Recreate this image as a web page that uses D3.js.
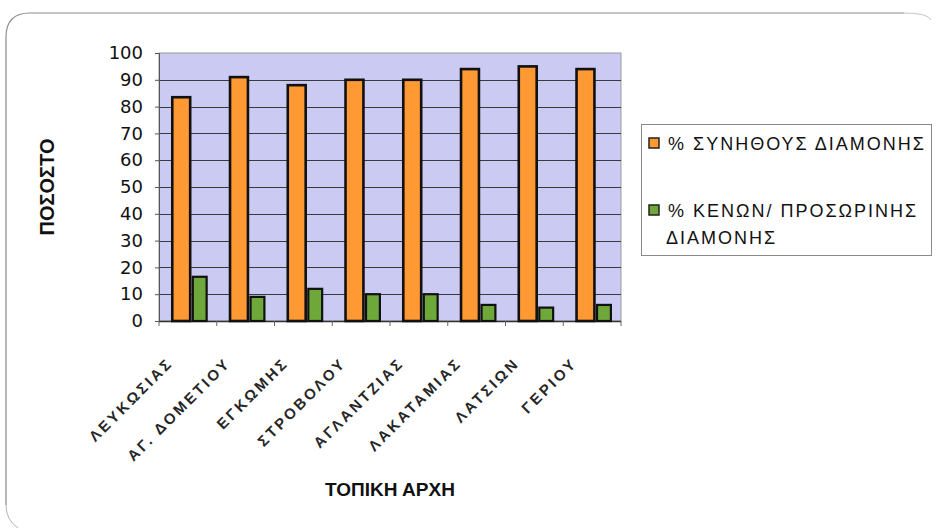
<!DOCTYPE html>
<html>
<head>
<meta charset="utf-8">
<script src="https://cdn.jsdelivr.net/npm/d3@7"></script>
<style>
  html, body { margin: 0; padding: 0; background: #ffffff; }
  svg { display: block; }
</style>
</head>
<body>
<svg id="chart" width="936" height="528"></svg>
<script>
// Municipalities of the Nicosia district
const categories = ["ΛΕΥΚΩΣΙΑΣ", "ΑΓ. ΔΟΜΕΤΙΟΥ", "ΕΓΚΩΜΗΣ", "ΣΤΡΟΒΟΛΟΥ", "ΑΓΛΑΝΤΖΙΑΣ", "ΛΑΚΑΤΑΜΙΑΣ", "ΛΑΤΣΙΩΝ", "ΓΕΡΙΟΥ"];
// % of dwellings in usual residence
const usualResidence = [83.5, 91, 88, 90, 90, 94, 95, 94];
// % of vacant / temporary-residence dwellings
const vacantTemporary = [16.5, 9, 12, 10, 10, 6, 5, 6];
const yTicks = [0, 10, 20, 30, 40, 50, 60, 70, 80, 90, 100];
const seriesNames = ["% ΣΥΝΗΘΟΥΣ ΔΙΑΜΟΝΗΣ", "% ΚΕΝΩΝ/ ΠΡΟΣΩΡΙΝΗΣ ΔΙΑΜΟΝΗΣ"];
const seriesColors = ["#ff9933", "#6fa83a"];

const svg = d3.select("#chart");
const plot = { left: 159, right: 621, top: 53, bottom: 321 };

// Outer rounded frame (top and left edges visible)
const r = 24;
svg.append("path")
  .attr("d", `M6,505 L6,${13 + r} Q6,13 ${6 + r},13 L${928 - r},13`)
  .attr("fill", "none")
  .attr("stroke", "#8a8a8a")
  .attr("stroke-width", 1.2);
svg.append("path")
  .attr("d", `M${928 - r},13 Q928,13 931,20`)
  .attr("fill", "none")
  .attr("stroke", "#c4c4c4")
  .attr("stroke-width", 1);
svg.append("path")
  .attr("d", `M6,505 Q6,520 18,528`)
  .attr("fill", "none")
  .attr("stroke", "#b0b0b0")
  .attr("stroke-width", 1);

const x = d3.scaleBand().domain(categories).range([plot.left, plot.right]).padding(0);
const y = d3.scaleLinear().domain([0, 100]).range([plot.bottom, plot.top]);

// Plot area background
svg.append("rect")
  .attr("x", plot.left).attr("y", plot.top)
  .attr("width", plot.right - plot.left).attr("height", plot.bottom - plot.top)
  .attr("fill", "#cacaf2")
  .attr("stroke", "#9a9a9a").attr("stroke-width", 1);

// Horizontal gridlines
svg.append("g")
  .selectAll("line")
  .data(yTicks.filter(d => d > 0 && d < 100))
  .join("line")
  .attr("x1", plot.left).attr("x2", plot.right)
  .attr("y1", d => Math.round(y(d)) + 0.5).attr("y2", d => Math.round(y(d)) + 0.5)
  .attr("stroke", "#3a3a3a").attr("stroke-width", 1);

// Y axis
const yAxis = svg.append("g")
  .attr("transform", `translate(${plot.left},0)`)
  .call(d3.axisLeft(y).tickValues(yTicks).tickSize(4).tickPadding(12));
yAxis.select(".domain").attr("stroke", "#555");
yAxis.selectAll(".tick line").attr("stroke", "#555");
yAxis.selectAll("text")
  .attr("font-family", "'DejaVu Sans', sans-serif")
  .attr("font-size", 18)
  .attr("fill", "#111");

// X axis with ticks between categories
const xAxis = svg.append("g")
  .attr("transform", `translate(0,${plot.bottom})`);
xAxis.append("line")
  .attr("x1", plot.left).attr("x2", plot.right)
  .attr("y1", 0.5).attr("y2", 0.5)
  .attr("stroke", "#333").attr("stroke-width", 1.5);
xAxis.selectAll(".sep")
  .data(categories.concat([null]))
  .join("line")
  .attr("class", "sep")
  .attr("x1", (d, i) => plot.left + i * x.bandwidth())
  .attr("x2", (d, i) => plot.left + i * x.bandwidth())
  .attr("y1", 0).attr("y2", 5)
  .attr("stroke", "#666");

// Bars
const bw = x.bandwidth();
const seriesLayout = [
  { values: usualResidence, offset: 0.23, width: 0.31, color: seriesColors[0], stroke: 2.6 },
  { values: vacantTemporary, offset: 0.585, width: 0.24, color: seriesColors[1], stroke: 2.2 }
];
seriesLayout.forEach(s => {
  svg.append("g")
    .selectAll("rect")
    .data(categories.map((c, i) => ({ c, v: s.values[i] })))
    .join("rect")
    .attr("x", d => x(d.c) + s.offset * bw)
    .attr("width", s.width * bw)
    .attr("y", d => y(d.v))
    .attr("height", d => y(0) - y(d.v))
    .attr("fill", s.color)
    .attr("stroke", "#111")
    .attr("stroke-width", s.stroke);
});

// Rotated category labels
svg.append("g")
  .selectAll("text")
  .data(categories)
  .join("text")
  .attr("transform", d => `translate(${x(d) + bw / 2 - 14},${plot.bottom + 43}) rotate(-45)`)
  .attr("text-anchor", "end")
  .attr("font-family", "'Liberation Sans', Arial, sans-serif")
  .attr("font-weight", "bold")
  .attr("font-size", 15)
  .attr("letter-spacing", 2.8)
  .attr("fill", "#262626")
  .text(d => d);

// Axis titles
svg.append("text")
  .attr("x", (plot.left + plot.right) / 2)
  .attr("y", 496)
  .attr("text-anchor", "middle")
  .attr("font-family", "'Liberation Sans', Arial, sans-serif")
  .attr("font-weight", "bold")
  .attr("font-size", 19)
  .attr("fill", "#111")
  .text("ΤΟΠΙΚΗ ΑΡΧΗ");

svg.append("text")
  .attr("transform", "translate(54,187) rotate(-90)")
  .attr("text-anchor", "middle")
  .attr("font-family", "'Liberation Sans', Arial, sans-serif")
  .attr("font-weight", "bold")
  .attr("font-size", 20)
  .attr("fill", "#111")
  .text("ΠΟΣΟΣΤΟ");

// Legend
const legend = svg.append("g");
legend.append("rect")
  .attr("x", 641.5).attr("y", 124.5)
  .attr("width", 290).attr("height", 131)
  .attr("fill", "#ffffff")
  .attr("stroke", "#8a8a8a").attr("stroke-width", 1);

const legendRows = [
  { lines: [seriesNames[0]], y: 150, color: seriesColors[0] },
  { lines: ["% ΚΕΝΩΝ/ ΠΡΟΣΩΡΙΝΗΣ", "ΔΙΑΜΟΝΗΣ"], y: 217, color: seriesColors[1] }
];
legendRows.forEach(row => {
  legend.append("rect")
    .attr("x", 649).attr("y", row.y - 12)
    .attr("width", 10).attr("height", 10)
    .attr("fill", row.color)
    .attr("stroke", "#222").attr("stroke-width", 1.5);
  const t = legend.append("text")
    .attr("font-family", "'Liberation Sans', Arial, sans-serif")
    .attr("font-size", 18)
    .attr("letter-spacing", 2)
    .attr("fill", "#111");
  row.lines.forEach((ln, i) => {
    t.append("tspan")
      .attr("x", i === 0 ? 668 : 666)
      .attr("y", row.y + i * 27)
      .text(ln);
  });
});
</script>
</body>
</html>
